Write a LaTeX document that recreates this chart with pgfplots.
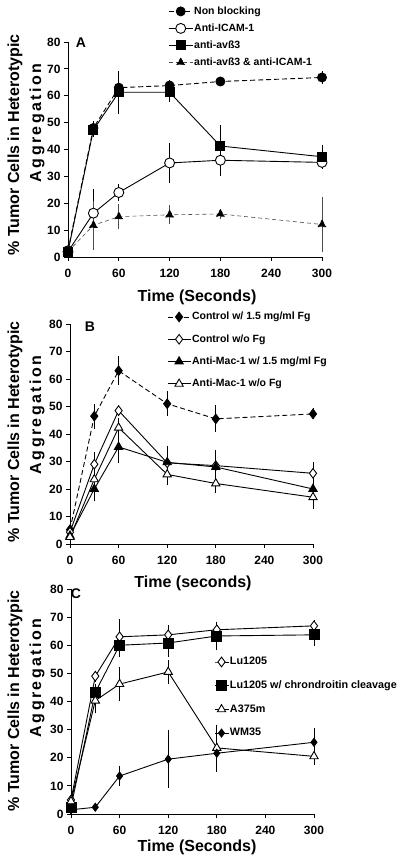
\documentclass[border=0pt]{standalone}
\usepackage{fontspec}
\setmainfont{Liberation Sans}
\usepackage{pgfplots}
\pgfplotsset{compat=1.18}
\usepackage{pgfplotstable}

% Panel A
\pgfplotstableread{
t y e
0 2.5 1
30 48 1.5
60 63 2
120 63.8 1
180 65.3 0.8
300 66.8 1.2
}\aNB
\pgfplotstableread{
t y e
0 2 1
30 16.3 8
60 24 2.3
120 35 6.5
180 36 5
300 35.2 1
}\aICAM
\pgfplotstableread{
t y e
0 2 1.5
30 47.3 1.5
60 61.3 7
120 61.3 2.5
180 41.3 6.7
300 37.3 3.5
}\aAVB
\pgfplotstableread{
t y e
0 2 1
30 11.8 8
60 15 3.5
120 15.7 2.5
180 16 0.8
300 12.1 9.2
}\aBOTH
% Panel B
\pgfplotstableread{
t y e
0 5.2 1
30 46.5 3.5
60 63 4.2
120 51 3.5
180 45.5 3.9
300 47.3 1
}\bCF
\pgfplotstableread{
t y e
0 4.3 1
30 29 3.5
60 48.5 1
120 29.5 5
180 28.5 4.5
300 25.7 3
}\bCN
\pgfplotstableread{
t y e
0 3 1
30 20 3.5
60 35.3 4.7
120 29.7 3
180 28 3.5
300 20 2.2
}\bMF
\pgfplotstableread{
t y e
0 2.5 1.5
30 23.5 2.3
60 42.3 2.5
120 25.3 3
180 22 2.5
300 17 3.3
}\bMN
% Panel C
\pgfplotstableread{
t y e
0 5 1
30 49 1
60 63 5.2
120 63.7 2.5
180 65.5 1.8
300 66.9 1
}\cLU
\pgfplotstableread{
t y e
0 2.5 1.5
30 43.3 2
60 60 3.2
120 60.8 4
180 63.3 4
300 63.7 3
}\cLUC
\pgfplotstableread{
t y e
0 4.5 1
30 40.3 3.5
60 46.2 5.2
120 50.5 3.3
180 23.5 7.3
300 20.5 2
}\cA
\pgfplotstableread{
t y e
0 1.5 0.5
30 2.4 0.5
60 13.5 2.4
120 19.5 9.2
180 21.6 5.5
300 25.5 4.2
}\cWM

\pgfplotsset{
  panel/.style={
    scale only axis,
    axis lines=left,
    axis line style={-, line width=0.9pt},
    xmin=0,xmax=300,ymin=0,ymax=80,
    xtick={0,60,120,180,240,300},
    ytick={0,10,...,80},
    tick align=outside,
    major tick length=4pt,
    tick style={line width=0.9pt, black},
    ticklabel style={font=\fontsize{12}{14}\selectfont\bfseries},
    xticklabel style={yshift=-5pt},
    /pgf/number format/assume math mode=true,
    clip=false,
    legend cell align=left,
    legend style={draw=none, fill=none, inner sep=0pt,
      font=\fontsize{10.5}{12}\selectfont\bfseries,
      nodes={inner sep=1pt, text height=7.5pt, text depth=2pt}},
  },
  eb/.style={line width=0.9pt, black, mark options={solid},
    error bars/y dir=both, error bars/y explicit,
    error bars/error bar style={line width=0.8pt, solid},
    error bars/error mark options={line width=0.8pt, mark size=2.8pt, solid}},
  dsh/.style={dash pattern=on 5pt off 3pt},
}

\newcommand{\aggr}{{\addfontfeature{LetterSpace=15}Aggregation}}

\begin{document}
\begin{tikzpicture}
\useasboundingbox (0pt,0pt) rectangle (402pt,863pt);

% ---------- Panel A ----------
\begin{axis}[panel, at={(68pt,606pt)}, anchor=south west, width=254pt, height=215pt,
  legend style={at={(0.394,1.17)}, anchor=north west, row sep=5.5pt},
  legend image code/.code={\draw[mark repeat=2,mark phase=2,#1] plot coordinates {(0pt,0pt) (12pt,0pt) (24pt,0pt)};}]
\addplot[eb, dsh, mark=*, mark size=4.5pt] table[x=t,y=y,y error=e] {\aNB};
\addlegendentry{Non blocking}
\addplot[eb, mark=*, mark size=5pt, mark options={fill=white}] table[x=t,y=y,y error=e] {\aICAM};
\addlegendentry{Anti-ICAM-1}
\addplot[eb, mark=square*, mark size=4.5pt] table[x=t,y=y,y error=e] {\aAVB};
\addlegendentry{anti-avß3}
\addplot[eb, dash pattern=on 4pt off 3pt, line width=0.6pt, mark=triangle*, mark size=4.5pt,
  mark options={black}, color=black!70] table[x=t,y=y,y error=e] {\aBOTH};
\addlegendentry{anti-avß3 \& anti-ICAM-1}
\end{axis}

% ---------- Panel B ----------
\begin{axis}[panel, at={(70pt,319pt)}, anchor=south west, width=243pt, height=220pt,
  legend style={at={(0.399,1.059)}, anchor=north west, row sep=10.8pt},
  legend image code/.code={\draw[mark repeat=2,mark phase=2,#1] plot coordinates {(0pt,0pt) (11.5pt,0pt) (23pt,0pt)};}]
\addplot[eb, dsh, mark=diamond*, mark size=4.8pt] table[x=t,y=y,y error=e] {\bCF};
\addlegendentry{Control w/ 1.5 mg/ml Fg}
\addplot[eb, mark=diamond*, mark size=4.8pt, mark options={fill=white}] table[x=t,y=y,y error=e] {\bCN};
\addlegendentry{Control w/o Fg}
\addplot[eb, mark=triangle*, mark size=4.8pt] table[x=t,y=y,y error=e] {\bMF};
\addlegendentry{Anti-Mac-1 w/ 1.5 mg/ml Fg}
\addplot[eb, mark=triangle*, mark size=4.8pt, mark options={fill=white}] table[x=t,y=y,y error=e] {\bMN};
\addlegendentry{Anti-Mac-1 w/o Fg}
\end{axis}

% ---------- Panel C ----------
\begin{axis}[panel, at={(71pt,49pt)}, anchor=south west, width=243pt, height=225pt,
  legend style={at={(0.588,0.702)}, anchor=north west, row sep=12.2pt,
    font=\fontsize{10.8}{13}\selectfont\bfseries},
  legend image code/.code={\draw[mark repeat=2,mark phase=2,#1] plot coordinates {(0pt,0pt) (7pt,0pt) (14pt,0pt)};}]
\addplot[eb, mark=diamond*, mark size=4.8pt, mark options={fill=white}] table[x=t,y=y,y error=e] {\cLU};
\addlegendentry{Lu1205}
\addplot[eb, mark=square*, mark size=5pt] table[x=t,y=y,y error=e] {\cLUC};
\addlegendentry{Lu1205 w/ chrondroitin cleavage}
\addplot[eb, mark=triangle*, mark size=4.8pt, mark options={fill=white}] table[x=t,y=y,y error=e] {\cA};
\addlegendentry{A375m}
\addplot[eb, mark=diamond*, mark size=4pt] table[x=t,y=y,y error=e] {\cWM};
\addlegendentry{WM35}
\end{axis}

% ---------- labels ----------
\begin{scope}[every node/.style={font=\fontsize{16}{18}\selectfont\bfseries, inner sep=0pt}]
\node[rotate=90] at (15pt,718pt) {\% Tumor Cells in Heterotypic};
\node[rotate=90] at (37pt,740pt) {\aggr};
\node at (197pt,566pt) {Time (Seconds)};
\node[rotate=90] at (15pt,431pt) {\% Tumor Cells in Heterotypic};
\node[rotate=90] at (37pt,448pt) {\aggr};
\node at (193pt,280pt) {Time (seconds)};
\node[rotate=90] at (15pt,162pt) {\% Tumor Cells in Heterotypic};
\node[rotate=90] at (37pt,185pt) {\aggr};
\node at (197pt,16pt) {Time (Seconds)};
\end{scope}
\begin{scope}[every node/.style={font=\fontsize{14}{16}\selectfont\bfseries, inner sep=0pt}]
\node at (81pt,820pt) {A};
\node at (90pt,536pt) {B};
\node at (76pt,269pt) {C};
\end{scope}
\end{tikzpicture}
\end{document}
